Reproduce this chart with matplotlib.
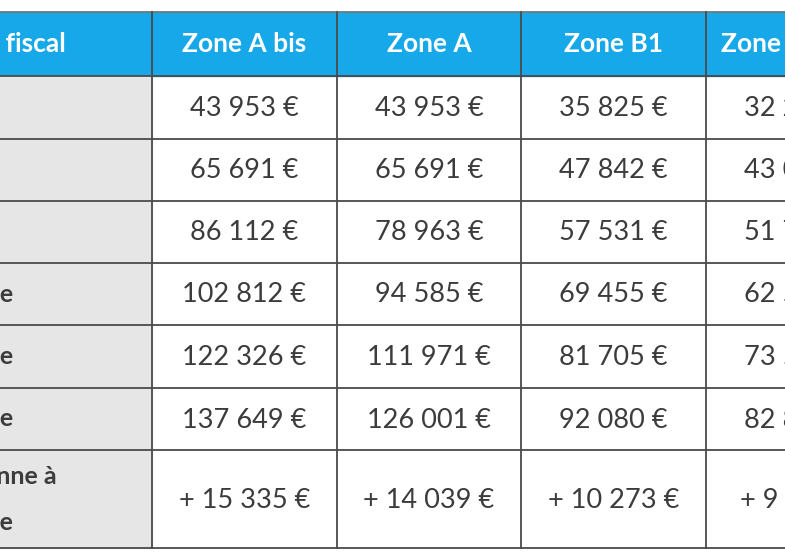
import matplotlib.pyplot as plt
from matplotlib.patches import Rectangle

# plafonds de ressources par zone
zones = ["Zone A bis", "Zone A", "Zone B1", "Zone B2 et C"]
zone_a_bis = ["43 953 €", "65 691 €", "86 112 €", "102 812 €", "122 326 €", "137 649 €", "+ 15 335 €"]
zone_a = ["43 953 €", "65 691 €", "78 963 €", "94 585 €", "111 971 €", "126 001 €", "+ 14 039 €"]
zone_b1 = ["35 825 €", "47 842 €", "57 531 €", "69 455 €", "81 705 €", "92 080 €", "+ 10 273 €"]
zone_b2 = ["32 259 €", "43 079 €", "51 796 €", "62 568 €", "73 597 €", "82 873 €", "+ 9 236 €"]
row_labels = ["Personne seule", "Couple", "1 personne à charge",
              "2 personnes à charge", "3 personnes à charge", "4 personnes à charge",
              ("Majoration par personne à", "charge")]

plt.rcParams['font.family'] = ['Lato', 'DejaVu Sans']
fig = plt.figure(figsize=(7.85, 5.6), dpi=100)
ax = fig.add_axes([0, 0, 1, 1])
ax.set_xlim(0, 785)
ax.set_ylim(560, 0)
ax.axis('off')

xs = [-200, 152, 337, 521, 706, 900]
ys = [12, 76, 139, 201, 263, 325, 388, 450, 548]
blue = "#17a8e9"
line = "#4a4a4a"
txt = "#3c3c3c"

# header
ax.add_patch(Rectangle((xs[0], ys[0]), xs[-1] - xs[0], ys[1] - ys[0], color=blue, zorder=1))
ax.text(66, 44, "Revenu   fiscal", ha='right', va='center', color='white', fontsize=19, fontweight='bold')
for j, z in enumerate(zones):
    ax.text((xs[j + 1] + xs[j + 2]) / 2 if j < 3 else xs[4] + 92, 44, z, ha='center', va='center',
            color='white', fontsize=19, fontweight='bold')

# first column grey
ax.add_patch(Rectangle((xs[0], ys[1]), xs[1] - xs[0], ys[-1] - ys[1], color="#e6e6e6", zorder=1))

cols = [zone_a_bis, zone_a, zone_b1, zone_b2]
for i in range(7):
    yc = (ys[i + 1] + ys[i + 2]) / 2
    for j, col in enumerate(cols):
        xc = (xs[j + 1] + xs[j + 2]) / 2 if j < 3 else xs[4] + 92
        ax.text(xc, yc + 1, col[i], ha='center', va='center', color=txt, fontsize=19.5)
    lab = row_labels[i]
    if isinstance(lab, tuple):
        ax.text(57, yc - 22, lab[0], ha='right', va='center', color=txt, fontsize=18, fontweight='bold')
        ax.text(13, yc + 23, lab[1], ha='right', va='center', color=txt, fontsize=18, fontweight='bold')
    elif i >= 3:
        ax.text(13, yc, lab, ha='right', va='center', color=txt, fontsize=18, fontweight='bold')
    else:
        ax.text(-20, yc, lab, ha='right', va='center', color=txt, fontsize=18, fontweight='bold')

# grid
for y in ys:
    ax.plot([xs[0], xs[-1]], [y, y], color=line if y > 12 else "#777777", lw=1.3, zorder=3)
for x in xs[1:-1]:
    ax.plot([x, x], [ys[0], ys[-1]], color=line, lw=1.3, zorder=3)

fig.savefig("out.png", dpi=100)
